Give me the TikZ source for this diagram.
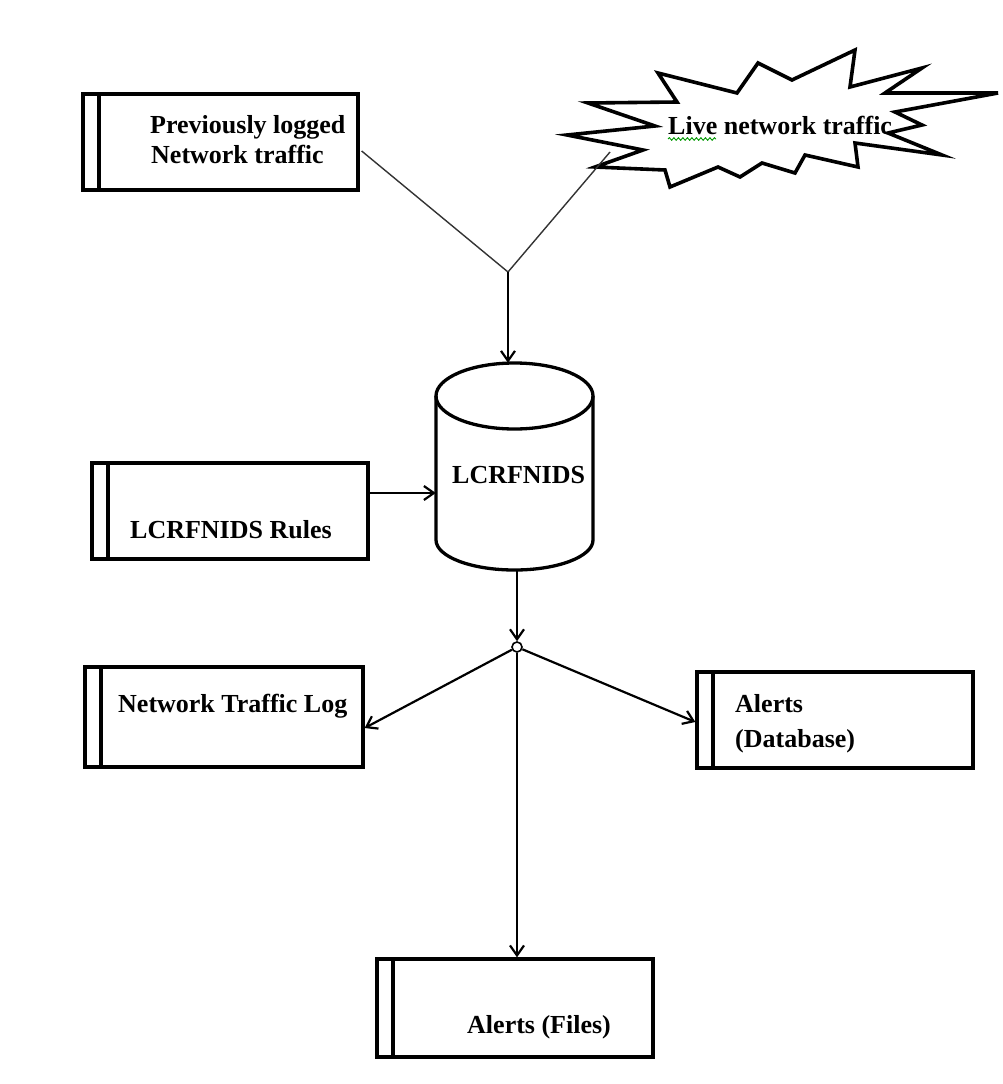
\documentclass[tikz,border=0pt]{standalone}
\usepackage{fontspec}
\setmainfont{Liberation Serif}
\usetikzlibrary{arrows.meta,calc,decorations.pathmorphing}
\begin{document}
\begin{tikzpicture}[x=1pt,y=-1pt,
  store/.style n args={2}{rectangle, draw, line width=3.3pt, inner sep=0pt,
    minimum width=#1pt, minimum height=#2pt,
    path picture={\draw[line width=3.3pt]
      ([xshift=16pt]path picture bounding box.north west) --
      ([xshift=16pt]path picture bounding box.south west);}},
  txt/.style={font=\bfseries\fontsize{26}{30}\selectfont, inner sep=0pt, anchor=base west},
  conn/.style={line width=2.2pt, -{Straight Barb[length=10pt,width=14pt]}},
  feed/.style={line width=1.4pt, black!80}]
\useasboundingbox (0,0) rectangle (1003,1084);

% data stores
\node[store={275}{96}] (prev) at (220.5,142) {};
\node[store={276}{96}] (rules) at (230,511) {};
\node[store={278}{100}] (log) at (224,717) {};
\node[store={276}{96}] (db) at (835,720) {};
\node[store={276}{98}] (files) at (515,1008) {};

% live traffic burst
\draw[line width=3.6pt, line join=miter, fill=white]
  (567,135) -- (655,126) -- (588,103) -- (677,102) -- (658,73) -- (737,93) --
  (758,63) -- (792,80) -- (855,50) -- (850,87) -- (922,68) -- (885,93) --
  (998,93) -- (895,112) -- (922,125) -- (888,133) -- (942,155) -- (855,143) --
  (858,167) -- (805,155) -- (795,173) -- (762,163) -- (740,177) -- (718,167) --
  (670,187) -- (665,170) -- (595,167) -- (643,150) -- cycle;
\coordinate (burst) at (610,152);

% IDS engine (cylinder)
\node[rectangle, inner sep=0pt, minimum width=157pt, minimum height=207pt] (ids) at (514.5,466.5) {};
\draw[line width=3.3pt]
  (436,396) -- (436,540) arc[start angle=180, end angle=0, x radius=78.5, y radius=30]
  -- (593,396) arc[start angle=0, end angle=-180, x radius=78.5, y radius=33] -- cycle;
\draw[line width=3.3pt] (436,396) arc[start angle=180, end angle=0, x radius=78.5, y radius=33];

% labels
\node[txt] (prevA) at (150,133) {Previously logged};
\node[txt] (prevB) at (151,163) {Network traffic};
\node[txt] (liveT) at (668,134) {Live network traffic};
\draw[green!60!black, line width=0.9pt, decorate,
  decoration={snake, amplitude=1.3pt, segment length=4.5pt}] (668,139) -- (716,139);
\node[txt] (idsT) at (452,483) {LCRFNIDS};
\node[txt] (rulesT) at (130,538) {LCRFNIDS Rules};
\node[txt] (logT) at (118,712) {Network Traffic Log};
\node[txt] (dbA) at (735,712) {Alerts};
\node[txt] (dbB) at (735,747) {(Database)};
\node[txt] (filesT) at (467,1033) {Alerts (Files)};

% inputs merging into the engine
\coordinate (j1) at (508,272);
\draw[feed] ($(prev.east)+(2,9)$) -- (j1);
\draw[feed] (burst) -- (j1);
\draw[conn] (j1) -- (j1 |- ids.north);
\draw[conn] ($(rules.east)+(0,-18)$) coordinate (r1) -- (r1 -| ids.west);

% outputs
\node[circle, draw, fill=white, line width=1.6pt, minimum size=10pt, inner sep=0pt] (hub) at (517,647) {};
\draw[conn] (hub |- ids.south) -- (hub);
\draw[conn] (hub) -- ($(log.east)+(0,11)$);
\draw[conn] (hub) -- ($(db.west)+(0,2)$);
\draw[conn] (hub) -- (hub |- files.north);
\end{tikzpicture}
\end{document}
